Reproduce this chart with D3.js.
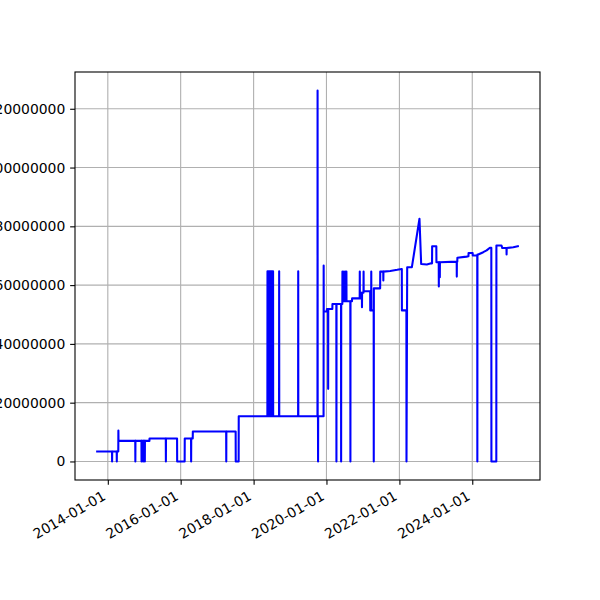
<!DOCTYPE html>
<html><head><meta charset="utf-8">
<script src="https://cdn.jsdelivr.net/npm/d3@7"></script>
<style>body{margin:0;background:#fff}svg{display:block}</style>
</head><body><svg id="c" width="600" height="600"></svg>
<script>
const dates = [
"2013-09-06","2014-02-12","2014-02-13","2014-02-14","2014-03-31","2014-04-01","2014-04-02","2014-04-16","2014-04-17","2014-04-18",
"2014-10-03","2014-10-04","2014-10-05","2014-12-04","2014-12-05","2014-12-06","2014-12-21","2014-12-22","2014-12-23","2015-01-06",
"2015-01-07","2015-01-08","2015-02-22","2015-02-23","2015-08-05","2015-08-06","2015-08-07","2015-11-26","2015-11-27","2016-02-10",
"2016-02-11","2016-04-14","2016-04-15","2016-04-16","2016-05-01","2016-05-02","2017-04-01","2017-04-02","2017-04-03","2017-07-05",
"2017-07-06","2017-08-04","2017-08-05",
"2018-05-19","2018-05-20","2018-05-24","2018-05-28","2018-06-01","2018-06-05","2018-06-09","2018-06-13","2018-06-17","2018-06-21",
"2018-06-25","2018-06-29","2018-07-03","2018-07-07","2018-07-11","2018-07-15","2018-07-16",
"2018-09-13","2018-09-14","2018-09-15","2019-03-23","2019-03-24","2019-03-25",
"2019-10-03","2019-10-04","2019-10-05","2019-10-08","2019-10-09","2019-10-10",
"2019-12-03","2019-12-04","2019-12-05","2020-01-05","2020-01-06","2020-01-17","2020-01-18","2020-01-19",
"2020-02-29","2020-03-01","2020-04-09","2020-04-10","2020-04-11","2020-05-26","2020-05-27","2020-05-28",
"2020-06-08","2020-06-09","2020-06-10","2020-06-23","2020-06-24","2020-06-25","2020-07-08","2020-07-09","2020-07-10",
"2020-07-18","2020-07-19","2020-07-20","2020-08-27","2020-08-28","2020-08-29","2020-09-13","2020-09-14",
"2020-11-29","2020-11-30","2020-12-01","2020-12-04","2020-12-05","2020-12-21","2020-12-22","2020-12-23",
"2021-01-06","2021-01-07","2021-01-08","2021-03-14","2021-03-15","2021-03-24","2021-03-25","2021-03-26",
"2021-04-18","2021-04-19","2021-04-20","2021-06-22","2021-06-23","2021-07-23","2021-07-24","2021-07-25",
"2021-10-01","2021-12-10","2022-01-25","2022-01-26","2022-03-12","2022-03-13","2022-03-20",
"2022-05-06","2022-07-21","2022-08-07","2022-10-03","2022-11-15","2022-11-24","2022-11-25","2023-01-06","2023-01-07",
"2023-01-30","2023-01-31","2023-02-01","2023-02-09","2023-02-10","2023-02-11",
"2023-07-29","2023-07-30","2023-07-31","2023-08-04","2023-08-05","2023-11-05","2023-11-24","2023-11-25","2024-01-05","2024-01-06",
"2024-02-20","2024-02-21","2024-02-22","2024-03-01","2024-04-20","2024-05-24","2024-06-26","2024-07-10","2024-07-11","2024-08-29","2024-08-30",
"2024-10-20","2024-10-28","2024-12-09","2024-12-10","2024-12-11","2025-02-15","2025-04-12"
];
const values = [
3400000,3400000,0,3400000,3400000,0,3400000,3400000,10500000,7000000,
7000000,0,7000000,7000000,0,7000000,7000000,0,7000000,7000000,
0,7000000,7000000,7800000,7800000,0,7800000,7800000,0,0,
7800000,7800000,0,7800000,7800000,10200000,10200000,0,10200000,10200000,
0,0,15400000,
15400000,64700000,15400000,64700000,15400000,64700000,15400000,64700000,15400000,64700000,
15400000,64700000,15400000,64700000,15400000,64700000,15400000,
15400000,64700000,15400000,15400000,64700000,15400000,
15400000,126200000,15400000,15400000,0,15400000,
15400000,66700000,51000000,51000000,51900000,51900000,24700000,51900000,
51900000,53600000,53600000,0,53600000,53600000,0,53600000,
53600000,64600000,54500000,54500000,64600000,54500000,54500000,64600000,54500000,
54500000,64600000,54500000,54500000,0,54500000,54500000,55500000,
55500000,64600000,55500000,55500000,57400000,57400000,52500000,57400000,
57400000,64600000,57900000,57900000,51400000,51400000,64600000,51400000,
51400000,0,58900000,58900000,64600000,64600000,61600000,64600000,
64800000,65200000,65500000,51400000,51400000,0,66100000,
66100000,82600000,67200000,67000000,67400000,67400000,73200000,73200000,67800000,
67800000,59500000,67800000,67800000,62700000,67800000,
68000000,62900000,68000000,68000000,69300000,69700000,69800000,70900000,70900000,70100000,
70100000,0,70400000,70400000,71200000,71800000,72700000,72700000,0,0,73500000,
73500000,72600000,72600000,70400000,72600000,72900000,73300000
];
const yTicks = [0,20000000,40000000,60000000,80000000,100000000,120000000];
const yTickLabels = ["0","20000000","40000000","60000000","80000000","100000000","120000000"];
const xTicks = ["2014-01-01","2016-01-01","2018-01-01","2020-01-01","2022-01-01","2024-01-01"];

const parse = d3.utcParse("%Y-%m-%d");
const data = dates.map((d,i)=>({t:parse(d), v:values[i]}));

const L=75, R=540, T=72, B=480;
const tExt = d3.extent(data,d=>d.t);
const tPad = (tExt[1]-tExt[0])*0.05;
const x = d3.scaleUtc().domain([new Date(+tExt[0]-tPad), new Date(+tExt[1]+tPad)]).range([L,R]);
const vMax = d3.max(values), vMin = d3.min(values);
const vPad = (vMax-vMin)*0.05;
const y = d3.scaleLinear().domain([vMin-vPad, vMax+vPad]).range([B,T]);

const svg = d3.select("#c");
const font = "'DejaVu Sans', sans-serif";
const gridC = "#b0b0b0";
const fs = 13.9;

// grid
svg.append("g").selectAll("line").data(xTicks).join("line")
  .attr("x1",d=>x(parse(d))).attr("x2",d=>x(parse(d))).attr("y1",T).attr("y2",B)
  .attr("stroke",gridC).attr("stroke-width",1.1);
svg.append("g").selectAll("line").data(yTicks).join("line")
  .attr("x1",L).attr("x2",R).attr("y1",d=>y(d)).attr("y2",d=>y(d))
  .attr("stroke",gridC).attr("stroke-width",1.1);

// clip
svg.append("clipPath").attr("id","clip").append("rect").attr("x",L).attr("y",T).attr("width",R-L).attr("height",B-T);

const line = d3.line().x(d=>x(d.t)).y(d=>y(d.v));
svg.append("path").datum(data).attr("d",line).attr("clip-path","url(#clip)")
  .attr("fill","none").attr("stroke","#0000ff").attr("stroke-width",2.08)
  .attr("stroke-linejoin","round").attr("stroke-linecap","butt");

// axes
const xAxis = d3.axisBottom(x).tickValues(xTicks.map(parse)).tickSize(4.86).tickPadding(4.86)
  .tickFormat(d3.utcFormat("%Y-%m-%d"));
const gx = svg.append("g").attr("transform",`translate(0,${B})`).call(xAxis);
gx.select(".domain").remove();
gx.selectAll(".tick line").attr("stroke","#000").attr("stroke-width",1.1);
// matplotlib: rotated bbox right edge at tick, top edge at pad; baseline end offset
const asc = 0.76*fs, desc = 0.24*fs;
gx.selectAll(".tick text").attr("font-family",font).attr("font-size",fs+"px").attr("fill","#000")
  .attr("text-anchor","end").attr("y",0).attr("dy",null)
  .attr("transform",`translate(${-0.5*desc},${9.72+0.866*asc}) rotate(-30)`);

const yAxis = d3.axisLeft(y).tickValues(yTicks).tickSize(4.86).tickPadding(4.86)
  .tickFormat((d,i)=>yTickLabels[i]);
const gy = svg.append("g").attr("transform",`translate(${L},0)`).call(yAxis);
gy.select(".domain").remove();
gy.selectAll(".tick line").attr("stroke","#000").attr("stroke-width",1.1);
gy.selectAll(".tick text").attr("font-family",font).attr("font-size",fs+"px").attr("fill","#000");

// frame
svg.append("rect").attr("x",L).attr("y",T).attr("width",R-L).attr("height",B-T)
  .attr("fill","none").attr("stroke","#000").attr("stroke-width",1.1);
</script></body></html>
